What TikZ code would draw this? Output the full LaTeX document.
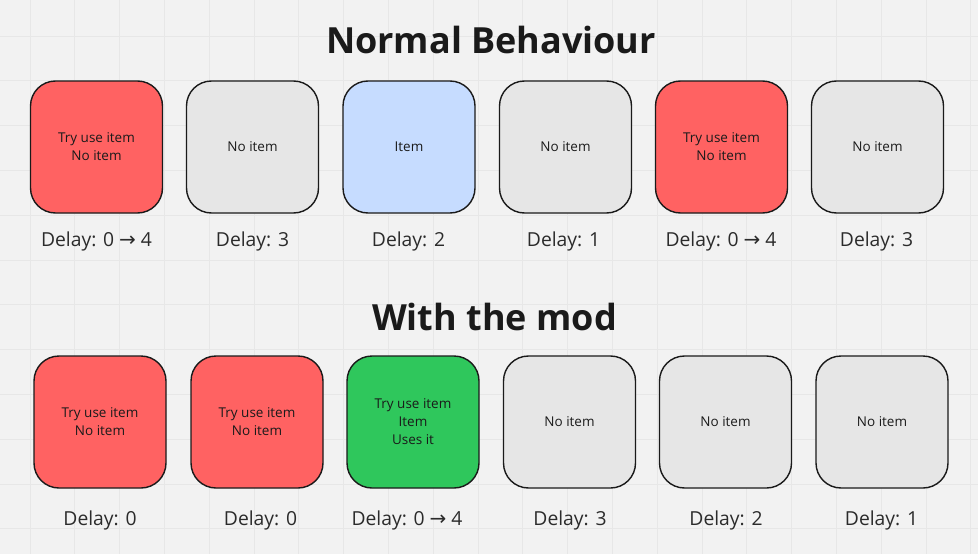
\documentclass[tikz,border=0pt]{standalone}
\usepackage{fontspec}
\setmainfont{Open Sans}
\newfontfamily\arrowfont{DejaVu Sans}
\usetikzlibrary{positioning}

\definecolor{boardbg}{HTML}{F2F2F2}
\definecolor{gridcol}{HTML}{E7E7E7}
\definecolor{failred}{HTML}{FF6262}
\definecolor{emptygray}{HTML}{E6E6E6}
\definecolor{itemblue}{HTML}{C6DCFF}
\definecolor{usegreen}{HTML}{2FC75C}
\definecolor{inkcol}{HTML}{1A1A1A}
\definecolor{labelcol}{HTML}{2B2B2B}

\newcommand{\arr}{{\arrowfont\fontsize{20}{20}\selectfont→}}

\begin{document}
\begin{tikzpicture}[x=1pt,y=-1pt,
  tick/.style={draw=inkcol,line width=1.4pt,rounded corners=25pt,minimum width=132pt,
    minimum height=132pt,inner sep=0pt,align=center,text=inkcol,
    font=\fontsize{13.5}{18}\selectfont},
  fail/.style={tick,fill=failred},
  empty/.style={tick,fill=emptygray},
  item/.style={tick,fill=itemblue},
  used/.style={tick,fill=usegreen},
  delay/.style={anchor=base,text=labelcol,font=\fontsize{19.3}{19}\selectfont},
  heading/.style={anchor=base,text=inkcol,font=\fontsize{36}{36}\selectfont\bfseries},
  gridline/.style={draw=gridcol,line width=0.8pt}]
  \useasboundingbox [fill=boardbg] (0,0) rectangle (978,554);
  % board grid
  \foreach \i in {0,...,21} \draw [gridline] ({30+44.8*\i},0) -- ++(0,554);
  \foreach \j in {0,...,11} \draw [gridline] (0,{36+44.8*\j}) -- ++(978,0);

  \node [heading] (normal) at (491,53) {Normal Behaviour};
  \node [fail]  (n1) at (96.5,147) {Try use item\\No item};
  \node [empty] (n2) at (252.5,147) {No item};
  \node [item]  (n3) at (409,147) {Item};
  \node [empty] (n4) at (565.5,147) {No item};
  \node [fail]  (n5) at (721.5,147) {Try use item\\No item};
  \node [empty] (n6) at (877.5,147) {No item};
  \node [delay] (nd1) at (96.5,246) {Delay: 0 \arr{} 4};
  \node [delay] (nd2) at (252.5,246) {Delay: 3};
  \node [delay] (nd3) at (408.5,246) {Delay: 2};
  \node [delay] (nd4) at (563.5,246) {Delay: 1};
  \node [delay] (nd5) at (721,246) {Delay: 0 \arr{} 4};
  \node [delay] (nd6) at (876.5,246) {Delay: 3};

  \node [heading] (modded) at (494.5,330) {With the mod};
  \node [fail]  (m1) at (100,422) {Try use item\\No item};
  \node [fail]  (m2) at (257,422) {Try use item\\No item};
  \node [used]  (m3) at (413,422) {Try use item\\Item\\Uses it};
  \node [empty] (m4) at (569.5,422) {No item};
  \node [empty] (m5) at (725.5,422) {No item};
  \node [empty] (m6) at (882,422) {No item};
  \node [delay] (md1) at (100,525.5) {Delay: 0};
  \node [delay] (md2) at (260.5,525.5) {Delay: 0};
  \node [delay] (md3) at (407,525.5) {Delay: 0 \arr{} 4};
  \node [delay] (md4) at (570,525.5) {Delay: 3};
  \node [delay] (md5) at (726,525.5) {Delay: 2};
  \node [delay] (md6) at (881.5,525.5) {Delay: 1};
\end{tikzpicture}
\end{document}
